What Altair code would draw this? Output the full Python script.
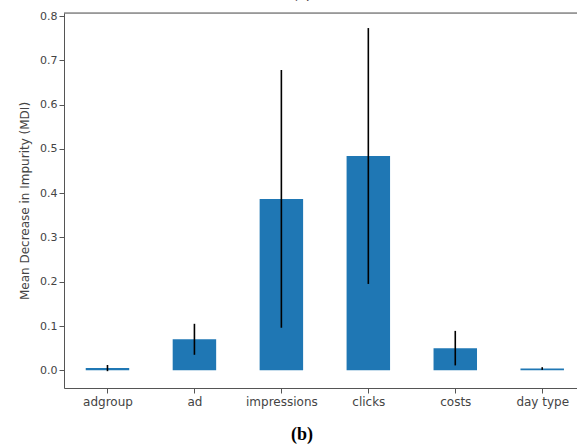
import altair as alt
import pandas as pd

features = ["adgroup", "ad", "impressions", "clicks", "costs", "day type"]
importance = [0.005, 0.070, 0.387, 0.484, 0.050, 0.004]
std = [0.007, 0.035, 0.291, 0.289, 0.039, 0.003]

df = pd.DataFrame({
    "i": list(range(len(features))),
    "feature": features,
    "imp": importance,
    "std": std,
})
df["x0"] = df["i"] - 0.25
df["x1"] = df["i"] + 0.25
df["lo"] = df["imp"] - df["std"]
df["hi"] = df["imp"] + df["std"]
df["zero"] = 0.0

W, H = 513, 375
AXC = "#555555"
FONT = "DejaVu Sans"

names_js = "[" + ",".join('"%s"' % f for f in features) + "]"

xscale = alt.Scale(domain=[-0.5, 5.4], nice=False, zero=False)
yscale = alt.Scale(domain=[-0.04, 0.807], nice=False, zero=False)

base = alt.Chart(df)

bars = base.mark_rect(color="#1f77b4").encode(
    x=alt.X("x0:Q", scale=xscale, axis=alt.Axis(
        values=list(range(len(features))),
        labelExpr=names_js + "[datum.value]",
        title=None, grid=False, tickSize=5, labelPadding=3,
        labelFont=FONT, labelFontSize=12, labelColor="#444444",
        domainColor=AXC, tickColor=AXC, labelFlush=False,
    )),
    x2="x1:Q",
    y=alt.Y("zero:Q", scale=yscale, axis=alt.Axis(
        values=[0, 0.1, 0.2, 0.3, 0.4, 0.5, 0.6, 0.7, 0.8], format=".1f",
        title="Mean Decrease in Impurity (MDI)", grid=False, tickSize=5,
        labelPadding=2, labelFont=FONT, labelFontSize=11, labelColor="#444444",
        titleFont=FONT, titleFontSize=12, titleFontWeight="normal",
        titleColor="#444444", titlePadding=8,
        domainColor=AXC, tickColor=AXC,
    )),
    y2="imp:Q",
)

errs = base.mark_rule(color="black", strokeWidth=1.6).encode(
    x=alt.X("i:Q", scale=xscale),
    y=alt.Y("lo:Q", scale=yscale),
    y2="hi:Q",
)

top = alt.Chart(pd.DataFrame({"a": [0]})).mark_rule(color=AXC, strokeWidth=1).encode(
    x=alt.value(0), x2=alt.value(W), y=alt.value(0)
)

cap_b = alt.Chart(pd.DataFrame({"t": ["(b)"]})).mark_text(
    font="Liberation Serif", fontSize=18, fontWeight="bold", color="black",
    align="center", baseline="alphabetic",
).encode(text="t:N", x=alt.value(238), y=alt.value(427))

cap_a = alt.Chart(pd.DataFrame({"t": ["(a)"]})).mark_text(
    font="Liberation Serif", fontSize=18, fontWeight="bold", color="black",
    align="center", baseline="alphabetic",
).encode(text="t:N", x=alt.value(238), y=alt.value(-16))

chart = alt.layer(bars, errs, top, cap_b, cap_a).properties(
    width=W, height=H,
    autosize=alt.AutoSizeParams(type="none"),
    padding={"left": 64, "top": 13, "right": 0, "bottom": 57},
).configure_view(stroke=None).configure(background="white")

chart.save("out.html", embed_options={"renderer": "svg", "actions": False})
